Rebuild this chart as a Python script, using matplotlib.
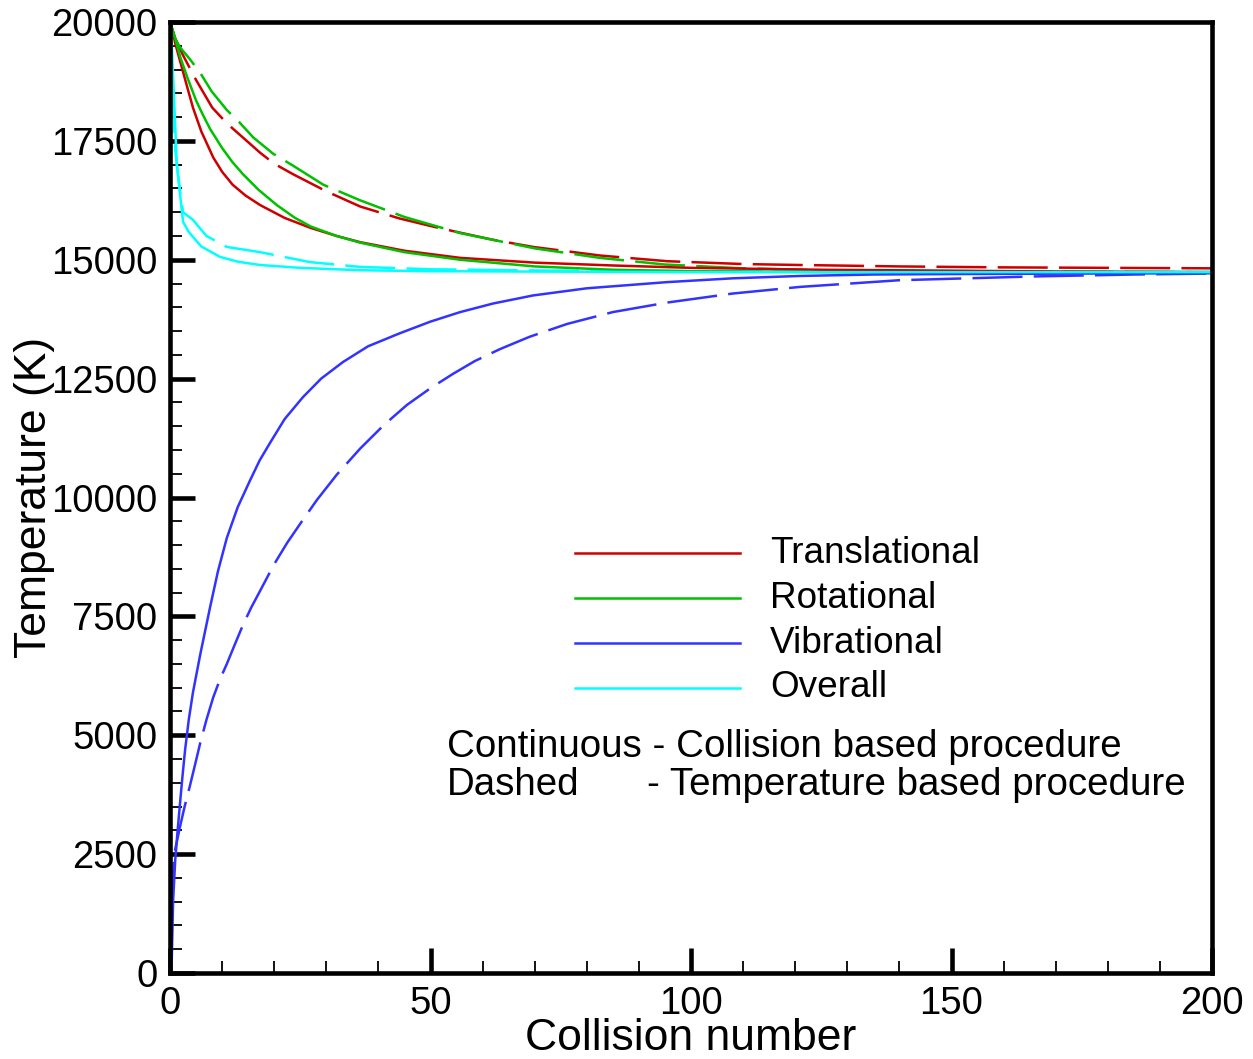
#!/bin/env python3

# Relaxation of translational, rotational, vibrational and overall
# temperatures vs collision number, two procedures compared:
# solid = collision based, dashed = temperature based.

import matplotlib
matplotlib.use('Agg')
import matplotlib.pyplot as plt
from matplotlib.ticker import MultipleLocator

plt.rcParams['font.family'] = ['Liberation Sans', 'DejaVu Sans']

# Translational
tr_x = [0, 0.5, 1, 2, 3, 4.4, 6, 8.3, 10, 12, 14.5, 17.3, 22, 27, 32, 36.5,
        45, 55.7, 70, 85, 100, 125, 150, 175, 200]
tr_col = [20000, 19800, 19550, 19150, 18750, 18200, 17700, 17150, 16850,
          16580, 16350, 16150, 15880, 15670, 15500, 15370, 15190, 15040,
          14940, 14880, 14830, 14790, 14770, 14750, 14740]
trd_x = [0, 1, 2.5, 5, 8.1, 11, 14, 17.3, 20, 23.6, 30, 36.5, 44, 50, 55.7,
         62, 69.7, 82.5, 95.4, 110, 121, 140, 160, 180, 200]
tr_tmp = [20000, 19650, 19300, 18780, 18200, 17860, 17570, 17250, 17020,
          16800, 16440, 16120, 15870, 15710, 15570, 15420, 15270, 15090,
          14970, 14910, 14890, 14860, 14840, 14830, 14820]

# Rotational
rot_x = [0, 1, 2, 3.3, 5, 6.3, 7.7, 10, 12, 14, 17, 20.5, 24, 27, 32, 36.5,
         45, 55.7, 70, 85, 100, 125, 150, 200]
rot_col = [20000, 19650, 19250, 18840, 18350, 18050, 17750, 17350, 17050,
           16800, 16470, 16150, 15880, 15700, 15500, 15360, 15160, 15000,
           14860, 14790, 14760, 14740, 14730, 14720]
rotd_x = [0, 1, 1.9, 3.8, 5.8, 8, 10.9, 13.4, 16, 19.8, 23.6, 29.4, 36.5,
          45, 55.7, 70, 82.5, 95, 110, 125, 150, 175, 200]
rot_tmp = [20000, 19650, 19470, 19220, 18930, 18540, 18150, 17880, 17570,
           17230, 16980, 16580, 16250, 15900, 15560, 15240, 15040, 14900,
           14820, 14780, 14760, 14750, 14740]

# Vibrational
vib_x = [0, 0.3, 0.6, 1, 1.5, 1.9, 2.4, 2.9, 3.6, 4.4, 5.8, 7.7, 9.2, 10.9,
         13, 15.4, 17.2, 19.2, 22, 25.5, 29, 33.2, 38, 44, 50, 55.7, 62,
         69.7, 80, 95.4, 108, 121, 135, 150, 175, 200]
vib_col = [0, 130, 1540, 2380, 3050, 3550, 4150, 4700, 5330, 5900, 6700,
           7700, 8450, 9150, 9800, 10370, 10780, 11150, 11650, 12110, 12500,
           12850, 13180, 13450, 13700, 13900, 14080, 14250, 14400, 14530,
           14610, 14660, 14690, 14700, 14710, 14720]
vibd_x = [0, 0.3, 0.8, 1.9, 2.8, 3.8, 4.8, 5.8, 7, 8.3, 9.6, 10.9, 12.4, 14,
          15.6, 17.3, 20, 22.5, 25, 28.2, 32, 36.5, 41, 45.5, 50, 54.3, 58.5,
          63.3, 69, 76.2, 85, 95.4, 108, 121, 140, 166, 185, 200]
vib_tmp = [0, 1500, 2500, 3070, 3500, 3930, 4380, 4840, 5330, 5800, 6180,
           6500, 6900, 7320, 7690, 8040, 8600, 9050, 9450, 9950, 10480,
           11030, 11520, 11950, 12300, 12600, 12870, 13120, 13380, 13650,
           13900, 14100, 14290, 14430, 14570, 14650, 14690, 14710]

# Overall
ov_x = [0, 0.3, 0.6, 1, 1.3, 2, 2.5, 3.5, 4.4, 6, 9.6, 13, 17.3, 25, 36.5,
        50, 75, 100, 150, 200]
ov_col = [20000, 19600, 18840, 17800, 17000, 16300, 15800, 15600, 15480,
          15280, 15060, 14960, 14890, 14830, 14780, 14760, 14750, 14740,
          14740, 14740]
ovd_x = [0, 0.5, 1, 1.9, 2.5, 4.4, 7, 10.9, 17.3, 26.9, 36.5, 50, 75, 100,
         150, 200]
ov_tmp = [20000, 18500, 17300, 16470, 16000, 15840, 15500, 15270, 15160,
          14950, 14850, 14800, 14770, 14760, 14750, 14740]

names = ['Translational', 'Rotational', 'Vibrational', 'Overall']
colors = ['#cc0000', '#00c000', '#3333ff', '#00ffff']
solid = [(tr_x, tr_col), (rot_x, rot_col), (vib_x, vib_col), (ov_x, ov_col)]
dashed = [(trd_x, tr_tmp), (rotd_x, rot_tmp), (vibd_x, vib_tmp),
          (ovd_x, ov_tmp)]

fig = plt.figure(figsize=(12.53, 10.59), dpi=100)
ax = fig.add_axes([0.1357, 0.0812, 0.8316, 0.898])

lw = 1.8
for (x, y), c in zip(dashed, colors):
    ax.plot(x, y, color=c, lw=lw, dashes=(20, 4.5))
for (x, y), c in zip(solid, colors):
    ax.plot(x, y, color=c, lw=lw)

ax.set_xlim(0, 200)
ax.set_ylim(0, 20000)
ax.xaxis.set_major_locator(MultipleLocator(50))
ax.xaxis.set_minor_locator(MultipleLocator(10))
ax.yaxis.set_major_locator(MultipleLocator(2500))
ax.yaxis.set_minor_locator(MultipleLocator(500))
ax.tick_params(which='both', direction='in', top=False, right=False,
               labelsize=27.5)
ax.tick_params(which='major', length=18, width=3.3, pad=9)
ax.tick_params(which='minor', length=8.5, width=1.3)
for s in ax.spines.values():
    s.set_linewidth(3.3)

ax.set_xlabel('Collision number', fontsize=32, labelpad=-2.5)
ax.set_ylabel('Temperature (K)', fontsize=32, labelpad=-3)

# legend drawn by hand: sample line + label
rows = [0.4416, 0.3943, 0.347, 0.2997]
for name, c, yy in zip(names, colors, rows):
    ax.plot([0.389, 0.547], [yy, yy], color=c, lw=lw, transform=ax.transAxes)
    ax.text(0.576, yy, name, transform=ax.transAxes, fontsize=26.6,
            va='center', ha='left')

ax.text(0.2658, 0.2376, 'Continuous - Collision based procedure',
        transform=ax.transAxes, fontsize=27.7, va='center', ha='left')
ax.text(0.2658, 0.1977, 'Dashed', transform=ax.transAxes, fontsize=27.7,
        va='center', ha='left')
ax.text(0.4578, 0.1977, '- Temperature based procedure',
        transform=ax.transAxes, fontsize=27.7, va='center', ha='left')

fig.savefig('out.png', dpi=100)
